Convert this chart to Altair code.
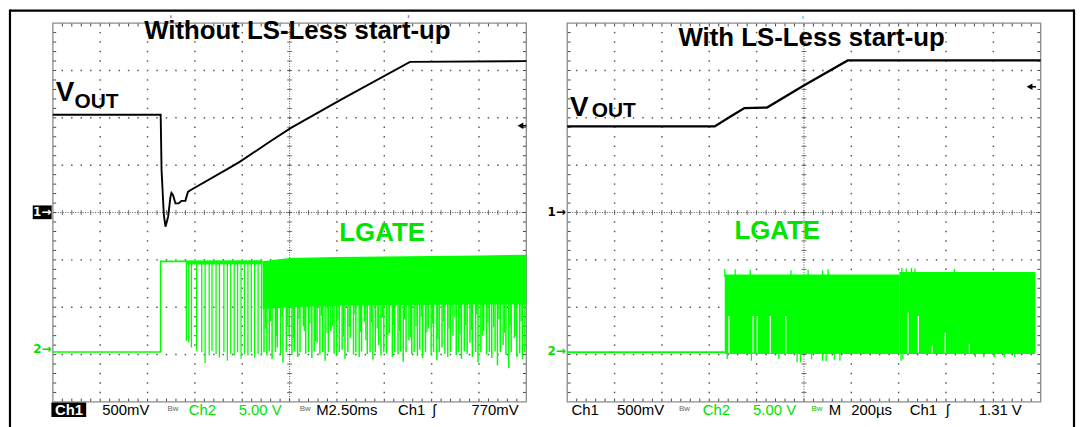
import altair as alt
import pandas as pd

# ====================== values ======================
# units: scope divisions of each screen (x 0..10 left->right, y 0..8 bottom->top)

# --- V_OUT trace, left screen (without LS-Less start-up)
vout_l_x = [0.000, 2.277, 2.296, 2.344, 2.379, 2.434, 2.484, 2.505, 2.539, 2.589, 2.658,
            2.715, 2.799, 2.853, 2.904, 3.637, 3.937, 4.587, 5.021, 6.096, 7.543, 10.000]
vout_l_y = [6.065, 6.065, 4.891, 3.948, 3.702, 3.912, 4.331, 4.415, 4.367, 4.193, 4.193,
            4.247, 4.247, 4.436, 4.472, 4.891, 5.065, 5.499, 5.782, 6.390, 7.182, 7.197]

# --- V_OUT trace, right screen (with LS-Less start-up)
vout_r_x = [0.000, 3.115, 3.415, 3.742, 4.221, 4.979, 5.924, 10.000]
vout_r_y = [5.820, 5.820, 6.009, 6.205, 6.218, 6.673, 7.212, 7.212]

# --- LGATE, left screen
lg_l_edge_x = [0.000, 2.277, 2.277, 4.430]
lg_l_edge_y = [1.055, 1.055, 2.969, 2.975]
lg_l_band_x = [4.43, 5.00, 6.00, 7.00, 8.00, 9.00, 10.00]
lg_l_band_top = [2.97, 3.04, 3.06, 3.07, 3.08, 3.09, 3.11]
lg_l_band_bot = [1.96, 2.00, 2.03, 2.04, 2.05, 2.06, 2.06]
lg_l_sparse_x = [2.820, 2.870, 2.927, 3.036, 3.145, 3.216, 3.302, 3.361, 3.447, 3.518, 3.612,
                 3.686, 3.757, 3.830, 3.902, 3.975, 4.046, 4.120, 4.191, 4.262, 4.335, 4.407]
lg_l_sparse_bot = [1.29, 1.26, 1.15, 1.08, 1.05, 0.82, 0.98, 1.08, 1.01, 0.94, 1.05,
                   0.87, 1.01, 0.98, 1.05, 0.91, 1.01, 0.98, 1.05, 0.94, 1.01, 0.98]
lg_l_comb_x = [4.46, 4.52, 4.57, 4.63, 4.70, 4.74, 4.81, 4.86, 4.93, 4.99,
               5.05, 5.10, 5.17, 5.22, 5.29, 5.34, 5.40, 5.47, 5.52, 5.58,
               5.64, 5.70, 5.75, 5.82, 5.87, 5.94, 5.99, 6.05, 6.11, 6.17,
               6.23, 6.28, 6.35, 6.40, 6.47, 6.52, 6.58, 6.64, 6.70, 6.76,
               6.81, 6.88, 6.93, 6.99, 7.05, 7.11, 7.17, 7.22, 7.29, 7.34,
               7.40, 7.46, 7.52, 7.58, 7.63, 7.70, 7.75, 7.81, 7.87, 7.93,
               7.99, 8.04, 8.11, 8.16, 8.22, 8.28, 8.34, 8.40, 8.45, 8.52,
               8.57, 8.63, 8.69, 8.75, 8.81, 8.86, 8.93, 8.98, 9.04, 9.10,
               9.16, 9.22, 9.27, 9.34, 9.39, 9.45, 9.51, 9.57, 9.63, 9.68,
               9.75, 9.80, 9.86, 9.92, 9.97]
lg_l_comb_bot = [1.05, 0.98, 1.07, 0.90, 1.05, 1.15, 1.01, 0.83, 1.05, 1.40,
                 1.00, 1.07, 0.95, 1.05, 1.60, 1.02, 1.05, 0.93, 1.07, 1.25,
                 1.00, 1.05, 0.87, 1.05, 1.50, 1.02, 0.97, 1.05, 1.10, 0.91,
                 1.05, 1.35, 1.00, 1.05, 0.95, 1.07, 1.70, 1.01, 1.05, 0.89,
                 1.05, 1.20, 0.98, 1.05, 1.02, 1.45, 0.95, 1.05, 1.00, 1.07,
                 0.85, 1.05, 1.30, 1.01, 1.05, 0.97, 1.10, 0.93, 1.05, 1.55,
                 1.00, 1.05, 0.88, 1.05, 1.15, 1.02, 0.95, 1.05, 1.40, 0.99,
                 1.05, 0.91, 1.07, 1.02, 1.25, 0.95, 1.05, 0.83, 1.05, 1.50,
                 1.00, 1.05, 0.93, 1.07, 0.77, 1.05, 1.20, 0.99, 0.71, 1.05,
                 1.35, 0.95, 1.03, 0.90, 1.05]
lg_l_short_x = [4.49, 4.60, 4.72, 4.84, 4.96, 5.08, 5.20, 5.31, 5.43, 5.55,
                5.67, 5.79, 5.91, 6.02, 6.14, 6.26, 6.38, 6.50, 6.61, 6.73,
                6.85, 6.96, 7.08, 7.20, 7.32, 7.43, 7.55, 7.67, 7.78, 7.90,
                8.02, 8.13, 8.25, 8.37, 8.49, 8.60, 8.72, 8.84, 8.95, 9.07,
                9.19, 9.31, 9.42, 9.54, 9.66, 9.78, 9.89]
lg_l_short_bot = [1.55, 1.70, 1.40, 1.80, 1.62, 1.35, 1.75, 1.50, 1.66, 1.28,
                  1.82, 1.45, 1.60, 1.72, 1.38, 1.58, 1.85, 1.48, 1.30, 1.68,
                  1.55, 1.78, 1.42, 1.63, 1.50, 1.75, 1.36, 1.60, 1.80, 1.47,
                  1.65, 1.33, 1.70, 1.55, 1.78, 1.44, 1.62, 1.52, 1.85, 1.40,
                  1.68, 1.57, 1.75, 1.46, 1.62, 1.38, 1.70]

# --- LGATE, right screen
lg_r_low_x = [0.000, 3.327]
lg_r_low_y = [1.048, 1.048]
lg_r_block_x0 = [3.327, 7.015]
lg_r_block_x1 = [7.015, 9.887]
lg_r_block_top = [2.690, 2.746]
lg_r_block_bot = 1.013
lg_r_up_x = [3.327, 3.547, 3.866, 4.725, 5.088, 5.394, 5.510, 7.067, 7.161, 7.270, 7.344, 8.180]
lg_r_up_top = [2.81, 2.80, 2.79, 2.78, 2.79, 2.78, 2.80, 2.83, 2.82, 2.83, 2.82, 2.81]
lg_r_gap_x = [3.415, 3.925, 4.013, 4.289, 4.616, 7.197, 7.417, 7.706, 7.983, 8.493]
lg_r_gap_top = [1.816, 1.816, 1.816, 1.816, 1.816, 1.887, 1.816, 1.187, 1.468, 1.222]
lg_r_dn_x = [3.38, 3.89, 4.47, 4.855, 4.93, 5.16, 5.39, 5.47, 5.64, 5.76, 7.05, 7.09,
             8.62, 8.80, 9.02, 9.23, 9.45]
lg_r_dn_bot = [0.908, 0.872, 0.908, 0.839, 0.839, 0.90, 0.87, 0.86, 0.89, 0.872, 0.872,
               0.90, 0.943, 0.943, 0.943, 0.943, 0.943]

# --- texts
titles = ["Without LS-Less start-up", "With LS-Less start-up"]
status_l = ["500mV", "Ch2", "5.00 V", "M2.50ms", "Ch1", "\u0283", "770mV"]
status_r = ["Ch1", "500mV", "Ch2", "5.00 V", "M", "200\u00b5s", "Ch1", "\u0283", "1.31 V"]
status_l_col = ["black", "#00e000", "#00e000", "black", "black", "black", "black"]
status_r_col = ["black", "black", "#00e000", "#00e000", "black", "black", "black", "black", "black"]

# ====================== layout (pixels / placement) ======================
W, H = 1076, 419
DIV = 47.7                 # pixels per division
X0PX, Y0PX = 45.2, 395.3   # chart-pixel position of the left screen's (0, 0)
OFF = {"L": 0.0, "R": 10.864}
GREEN = "#00ff00"
TXT_GREEN = "#00e400"
GRID = "#555555"
STATUS_Y = -0.281

sx = alt.Scale(domain=[-X0PX / DIV, (W - X0PX) / DIV], nice=False, zero=False)
sy = alt.Scale(domain=[-(H - Y0PX) / DIV, Y0PX / DIV], nice=False, zero=False)


def X(f="gx"):
    return alt.X(f"{f}:Q", scale=sx, axis=None)


def Y(f="y"):
    return alt.Y(f"{f}:Q", scale=sy, axis=None)


def frame(panel, **cols):
    d = pd.DataFrame(cols)
    d["gx"] = d["x"] + OFF[panel]
    if "x2" in d:
        d["gx2"] = d["x2"] + OFF[panel]
    d["i"] = range(len(d))
    return d


def both(fn):
    return pd.concat([fn("L"), fn("R")], ignore_index=True)


layers = []

# ---- outer figure frame
fr = pd.DataFrame({"gx": [-0.906, -0.906, 21.568], "gx2": [21.568, -0.906, 21.568],
                   "y": [8.266, 8.287, 8.287], "y2": [8.266, -0.6, -0.6]})
layers.append(alt.Chart(fr).mark_rule(color="black", strokeWidth=2.2).encode(
    x=X(), x2="gx2:Q", y=Y(), y2="y2:Q"))

# ---- graticule: dotted grid
def dots(p):
    xs, ys = [], []
    for j in [1, 2, 3, 5, 6, 7]:
        for k in range(1, 50):
            xs.append(k * 0.2); ys.append(j)
    for i in [1, 2, 3, 4, 6, 7, 8, 9]:
        for k in range(1, 40):
            if k % 5:
                xs.append(i); ys.append(k * 0.2)
    return frame(p, x=xs, y=ys)

layers.append(alt.Chart(both(dots)).mark_square(size=2.2, color=GRID, opacity=1).encode(
    x=X(), y=Y()))

# centre cross-hair (fine dotted) with minor ticks
def centre(p):
    return frame(p, x=[0, 5], x2=[10, 5], y=[4, 0], y2=[4, 8])

layers.append(alt.Chart(both(centre)).mark_rule(color=GRID, strokeWidth=1, strokeDash=[1, 1.5]).encode(
    x=X(), x2="gx2:Q", y=Y(), y2="y2:Q"))

def cticks_h(p):
    return frame(p, x=[k * 0.2 for k in range(1, 50)], y=[4] * 49)

def cticks_v(p):
    return frame(p, x=[5] * 39, y=[k * 0.2 for k in range(1, 40)])

layers.append(alt.Chart(both(cticks_h)).mark_tick(orient="vertical", size=5, thickness=1, color="#333").encode(
    x=X(), y=Y()))
layers.append(alt.Chart(both(cticks_v)).mark_tick(orient="horizontal", size=5, thickness=1, color="#333").encode(
    x=X(), y=Y()))

# border ticks (inward)
def bticks(p):
    xs, x2s, ys, y2s = [], [], [], []
    for k in range(1, 50):
        xs += [k * 0.2, k * 0.2]; x2s += [k * 0.2, k * 0.2]
        ys += [8, 0]; y2s += [7.93, 0.07]
    for k in range(1, 40):
        xs += [0, 10]; x2s += [0.07, 9.93]
        ys += [k * 0.2, k * 0.2]; y2s += [k * 0.2, k * 0.2]
    return frame(p, x=xs, x2=x2s, y=ys, y2=y2s)

layers.append(alt.Chart(both(bticks)).mark_rule(color="#444", strokeWidth=1).encode(
    x=X(), x2="gx2:Q", y=Y(), y2="y2:Q"))

# screen borders
def border(p):
    return frame(p, x=[0], x2=[10], y=[0], y2=[8])

layers.append(alt.Chart(both(border)).mark_rect(fillOpacity=0, stroke="#8a8a8a", strokeWidth=1.3).encode(
    x=X(), x2="gx2:Q", y=Y(), y2="y2:Q"))

# ---- LGATE (green), left screen
layers.append(alt.Chart(frame("L", x=lg_l_edge_x, y=lg_l_edge_y)).mark_line(
    color=GREEN, strokeWidth=1.6).encode(x=X(), y=Y(), order="i:Q"))
layers.append(alt.Chart(frame("L", x=[2.82, 4.43], y=[2.969, 2.975], y2=[2.90, 2.91])).mark_area(
    color=GREEN, opacity=1).encode(x=X(), y=Y(), y2="y2:Q"))
layers.append(alt.Chart(frame("L", x=lg_l_band_x, y=lg_l_band_top, y2=lg_l_band_bot)).mark_area(
    color=GREEN, opacity=1).encode(x=X(), y=Y(), y2="y2:Q"))
layers.append(alt.Chart(frame("L", x=lg_l_sparse_x, y=[2.95] * len(lg_l_sparse_x), y2=lg_l_sparse_bot)).mark_rule(
    color=GREEN, strokeWidth=1.3).encode(x=X(), y=Y(), y2="y2:Q"))
layers.append(alt.Chart(frame("L", x=lg_l_comb_x, y=[2.1] * len(lg_l_comb_x), y2=lg_l_comb_bot)).mark_rule(
    color=GREEN, strokeWidth=1.5).encode(x=X(), y=Y(), y2="y2:Q"))
layers.append(alt.Chart(frame("L", x=lg_l_short_x, y=[2.1] * len(lg_l_short_x), y2=lg_l_short_bot)).mark_rule(
    color=GREEN, strokeWidth=1.3).encode(x=X(), y=Y(), y2="y2:Q"))

# ---- LGATE (green), right screen
layers.append(alt.Chart(frame("R", x=lg_r_low_x, y=lg_r_low_y)).mark_line(
    color=GREEN, strokeWidth=2).encode(x=X(), y=Y()))
layers.append(alt.Chart(frame("R", x=lg_r_block_x0, x2=lg_r_block_x1, y=lg_r_block_top,
                              y2=[lg_r_block_bot] * 2)).mark_rect(color=GREEN, opacity=1).encode(
    x=X(), x2="gx2:Q", y=Y(), y2="y2:Q"))
layers.append(alt.Chart(frame("R", x=lg_r_up_x, y=lg_r_up_top, y2=[2.65] * len(lg_r_up_x))).mark_rule(
    color=GREEN, strokeWidth=1.3).encode(x=X(), y=Y(), y2="y2:Q"))
layers.append(alt.Chart(frame("R", x=lg_r_dn_x, y=[1.05] * len(lg_r_dn_x), y2=lg_r_dn_bot)).mark_rule(
    color=GREEN, strokeWidth=1.3).encode(x=X(), y=Y(), y2="y2:Q"))
layers.append(alt.Chart(frame("R", x=lg_r_gap_x, y=[1.03] * len(lg_r_gap_x), y2=lg_r_gap_top)).mark_rule(
    color="white", strokeWidth=1.2).encode(x=X(), y=Y(), y2="y2:Q"))

# ---- V_OUT (black)
layers.append(alt.Chart(frame("L", x=vout_l_x, y=vout_l_y)).mark_line(
    color="black", strokeWidth=1.9).encode(x=X(), y=Y(), order="i:Q"))
layers.append(alt.Chart(frame("R", x=vout_r_x, y=vout_r_y)).mark_line(
    color="black", strokeWidth=2.3).encode(x=X(), y=Y(), order="i:Q"))

# ---- texts
def txt(df, **kw):
    kw.setdefault("baseline", "alphabetic")
    return alt.Chart(df).mark_text(**kw).encode(x=X(), y=Y(), text="t:N")

tt = pd.concat([frame("L", x=[5.164], y=[7.673], t=[titles[0]]),
                frame("R", x=[5.162], y=[7.511], t=[titles[1]])])
layers.append(txt(tt, font="Liberation Sans", fontWeight="bold", fontSize=26, align="center", color="black"))

lg = pd.concat([frame("L", x=[6.954], y=[3.409], t=["LGATE"]),
                frame("R", x=[4.435], y=[3.444], t=["LGATE"])])
layers.append(txt(lg, font="Liberation Sans", fontWeight="bold", fontSize=26, align="center", color=TXT_GREEN))

vv = pd.concat([frame("L", x=[0.060], y=[6.356], t=["V"]), frame("R", x=[0.060], y=[6.044], t=["V"])])
layers.append(txt(vv, font="Liberation Sans", fontWeight="bold", fontSize=28, align="left", color="black"))
oo = pd.concat([frame("L", x=[0.457], y=[6.205], t=["OUT"]), frame("R", x=[0.520], y=[6.023], t=["OUT"])])
layers.append(txt(oo, font="Liberation Sans", fontWeight="bold", fontSize=21, align="left", color="black"))

# channel markers
box1 = frame("L", x=[-0.425], x2=[-0.025], y=[3.86], y2=[4.15])
layers.append(alt.Chart(box1).mark_rect(color="black").encode(x=X(), x2="gx2:Q", y=Y(), y2="y2:Q"))
layers.append(txt(frame("L", x=[-0.225], y=[4.01], t=["1\u2192"]), font="DejaVu Sans", fontWeight="bold",
                  fontSize=12, align="center", baseline="middle", color="white"))
layers.append(txt(frame("R", x=[-0.03], y=[4.02], t=["1\u2192"]), font="DejaVu Sans", fontWeight="bold",
                  fontSize=12, align="right", baseline="middle", color="black"))
m2 = pd.concat([frame("L", x=[-0.03], y=[1.11], t=["2\u2192"]), frame("R", x=[-0.03], y=[1.075], t=["2\u2192"])])
layers.append(txt(m2, font="DejaVu Sans", fontWeight="bold", fontSize=12, align="right", baseline="middle",
                  color=TXT_GREEN))

# trigger-level arrows at the right edge of each screen
ah = pd.concat([frame("L", x=[9.875], y=[5.834]), frame("R", x=[9.765], y=[6.656])])
layers.append(alt.Chart(ah).mark_point(shape="triangle-left", size=45, filled=True, color="black", opacity=1).encode(
    x=X(), y=Y()))
ast = pd.concat([frame("L", x=[9.88], x2=[10.0], y=[5.834]), frame("R", x=[9.77], x2=[9.9], y=[6.656])])
layers.append(alt.Chart(ast).mark_rule(color="black", strokeWidth=1.6).encode(x=X(), x2="gx2:Q", y=Y()))

# small trigger-position markers above the screens
mk = pd.concat([frame("L", x=[2.494, 7.511], y=[8.138, 8.138], c=["#a030e0", "#a030e0"]),
                frame("R", x=[4.981], y=[8.119], c=["#00c8ff"])])
layers.append(alt.Chart(mk).mark_tick(orient="vertical", size=3, thickness=1.5).encode(
    x=X(), y=Y(), color=alt.Color("c:N", scale=None)))

# status line
inv = frame("L", x=[-0.031], x2=[0.704], y=[-0.01], y2=[-0.32])
layers.append(alt.Chart(inv).mark_rect(color="black").encode(x=X(), x2="gx2:Q", y=Y(), y2="y2:Q"))
layers.append(txt(frame("L", x=[0.045], y=[STATUS_Y], t=["Ch1"]), font="Liberation Sans", fontSize=15,
                  fontWeight="bold", align="left", color="white"))
stl = frame("L", x=[1.044, 2.868, 3.925, 5.562, 7.291, 8.017, 8.843], y=[STATUS_Y] * 7, t=status_l, c=status_l_col)
str_ = frame("R", x=[0.090, 1.050, 2.864, 3.925, 5.526, 5.998, 7.235, 8.000, 8.692], y=[STATUS_Y] * 9,
             t=status_r, c=status_r_col)
layers.append(alt.Chart(pd.concat([stl, str_])).mark_text(font="Liberation Sans", fontSize=15, align="left",
                                                           baseline="alphabetic").encode(
    x=X(), y=Y(), text="t:N", color=alt.Color("c:N", scale=None)))
bw = pd.concat([frame("L", x=[2.421, 5.216], y=[-0.19, -0.19], c=["#666", "#666"]),
                frame("R", x=[2.361, 5.161], y=[-0.19, -0.19], c=["#666", "#00c000"])])
bw["t"] = "Bw"
layers.append(alt.Chart(bw).mark_text(font="Liberation Sans", fontSize=8, align="left",
                                      baseline="alphabetic").encode(
    x=X(), y=Y(), text="t:N", color=alt.Color("c:N", scale=None)))

chart = alt.layer(*layers).properties(
    width=W, height=H, padding=0, autosize=alt.AutoSizeParams(type="none")
).configure_view(stroke=None)

chart.save("out.html", embed_options={"renderer": "svg", "actions": False})
